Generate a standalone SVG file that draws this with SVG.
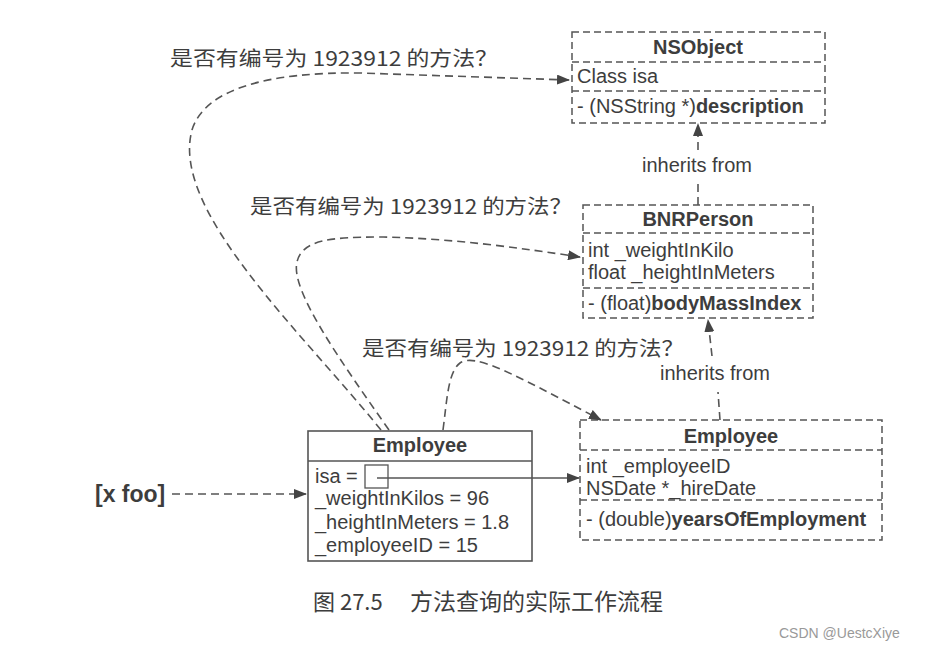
<svg xmlns="http://www.w3.org/2000/svg" width="940" height="650" viewBox="0 0 940 650">
<defs>
<style>
.t{font-family:"Liberation Sans",Arial,"Noto Sans CJK SC",sans-serif;font-size:20px;fill:#3d3d3d}
.b{font-weight:bold}
.cjk{font-family:"Noto Sans CJK SC","Liberation Sans",sans-serif;font-size:20px;fill:#3d3d3d}
.dbox{fill:none;stroke:#555;stroke-width:1.5;stroke-dasharray:7 4}
.sbox{fill:#fff;stroke:#555;stroke-width:1.6}
.dl{fill:none;stroke:#555;stroke-width:1.6;stroke-dasharray:8 5}
.sl{fill:none;stroke:#555;stroke-width:1.3}
</style>
<marker id="ah" viewBox="0 0 13 10" refX="12" refY="5" markerWidth="13" markerHeight="10" markerUnits="userSpaceOnUse" orient="auto">
<path d="M0,0 L13,5 L0,10 z" fill="#444"/>
</marker>
</defs>
<rect width="940" height="650" fill="#fff"/>

<g id="nsobject">
<rect class="dbox" x="572" y="32" width="253" height="91"/>
<line class="dbox" x1="572" y1="62" x2="825" y2="62"/>
<line class="dbox" x1="572" y1="91" x2="825" y2="91"/>
<text class="t b" x="698" y="54" text-anchor="middle">NSObject</text>
<text class="t" x="577" y="83">Class isa</text>
<text class="t" x="577" y="113">- (NSString *)<tspan class="b">description</tspan></text>
</g>

<g id="bnrperson">
<rect class="dbox" x="583" y="205" width="230" height="113"/>
<line class="dbox" x1="583" y1="233" x2="813" y2="233"/>
<line class="dbox" x1="583" y1="288" x2="813" y2="288"/>
<text class="t b" x="698" y="226" text-anchor="middle">BNRPerson</text>
<text class="t" x="588" y="257">int _weightInKilo</text>
<text class="t" x="588" y="279">float _heightInMeters</text>
<text class="t" x="588" y="310">- (float)<tspan class="b">bodyMassIndex</tspan></text>
</g>

<g id="employee-class">
<rect class="dbox" x="580" y="420" width="302" height="120"/>
<line class="dbox" x1="580" y1="450" x2="882" y2="450"/>
<line class="dbox" x1="580" y1="500" x2="882" y2="500"/>
<text class="t b" x="731" y="443" text-anchor="middle">Employee</text>
<text class="t" x="586" y="473">int _employeeID</text>
<text class="t" x="586" y="495">NSDate *_hireDate</text>
<text class="t" x="586" y="526">- (double)<tspan class="b">yearsOfEmployment</tspan></text>
</g>

<g id="employee-instance">
<rect class="sbox" x="308" y="431" width="224" height="130"/>
<line class="sl" x1="308" y1="461" x2="532" y2="461" style="stroke-width:1.6"/>
<text class="t b" x="420" y="452" text-anchor="middle">Employee</text>
<text class="t" x="315" y="483">isa =</text>
<rect class="sl" x="365" y="465" width="23" height="23"/>
<text class="t" x="315" y="505">_weightInKilos = 96</text>
<text class="t" x="315" y="529">_heightInMeters = 1.8</text>
<text class="t" x="315" y="552">_employeeID = 15</text>
</g>

<g id="message">
<text class="t b" x="95" y="502" style="font-size:23px">[x foo]</text>
</g>

<g id="labels">
<text class="cjk" x="170" y="66" textLength="328" lengthAdjust="spacingAndGlyphs">是否有编号为 1923912 的方法？</text>
<text class="cjk" x="250" y="214" textLength="322" lengthAdjust="spacingAndGlyphs">是否有编号为 1923912 的方法？</text>
<text class="cjk" x="362" y="356" textLength="322" lengthAdjust="spacingAndGlyphs">是否有编号为 1923912 的方法？</text>
<text class="t" x="697" y="172" text-anchor="middle">inherits from</text>
<text class="t" x="715" y="380" text-anchor="middle">inherits from</text>
</g>

<g id="connectors">
<path class="dl" d="M381 430 C300 330 170 210 192 130 C205 88 270 72 360 73 L569 80" marker-end="url(#ah)"/>
<path class="dl" d="M389 430 C340 360 290 290 297 262 C302 240 330 237 380 237 C450 238 520 248 580 257" marker-end="url(#ah)"/>
<path class="dl" d="M443 430 C447 400 448 372 460 363 C475 353 510 372 601 420" marker-end="url(#ah)"/>
<line class="sl" x1="377" y1="478" x2="579" y2="478" marker-end="url(#ah)"/>
<line class="dl" x1="172" y1="494" x2="306" y2="494" marker-end="url(#ah)"/>
<line class="dl" x1="698" y1="205" x2="698" y2="180"/>
<line class="dl" x1="698" y1="150" x2="698" y2="124" marker-end="url(#ah)"/>
<line class="dl" x1="720" y1="420" x2="718" y2="392"/>
<line class="dl" x1="712" y1="356" x2="708" y2="320" marker-end="url(#ah)"/>
</g>

<g id="caption">
<text class="cjk" x="313" y="610" style="font-size:22px">图 27.5<tspan x="410" style="font-size:23px">方法查询的实际工作流程</tspan></text>
<text x="779" y="638" style="font-family:'Liberation Sans',Arial,sans-serif;font-size:14px;fill:#999">CSDN @UestcXiye</text>
</g>
</svg>
